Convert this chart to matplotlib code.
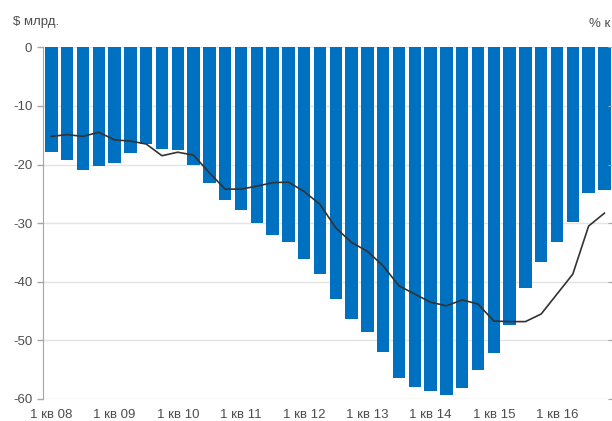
import numpy as np
from matplotlib import pyplot as plt

plt.rc('font', family=['Liberation Sans', 'DejaVu Sans'], size=9.5)
plt.rc('axes', unicode_minus=False)

# квартальные данные, 1 кв 2008 - 4 кв 2016
quarters = [f'{q} кв {y:02d}' for y in range(8, 17) for q in range(1, 5)]
bars_bln = [-17.9, -19.2, -21.0, -20.3, -19.8, -18.1, -16.5, -17.4,
            -17.6, -20.0, -23.1, -26.1, -27.8, -30.0, -32.0, -33.3,
            -36.1, -38.6, -43.0, -46.4, -48.5, -51.9, -56.4, -58.0,
            -58.6, -59.3, -58.1, -55.0, -52.2, -47.4, -41.0, -36.7,
            -33.2, -29.8, -24.8, -24.3]
line_pct = [-15.2, -14.9, -15.2, -14.5, -15.8, -16.0, -16.5, -18.5,
            -17.9, -18.4, -21.4, -24.2, -24.2, -23.7, -23.1, -23.0,
            -24.6, -26.8, -30.8, -33.3, -34.8, -37.3, -40.7, -42.1,
            -43.5, -44.1, -43.1, -43.8, -46.7, -46.8, -46.8, -45.5,
            -42.1, -38.7, -30.5, -28.3]
yticks = [0, -10, -20, -30, -40, -50, -60]

txt = '#4d4d4d'
fig = plt.figure(figsize=(6.12, 4.21), dpi=100)
ax = fig.add_axes([0.071, 0.0523, 0.9295, 0.8354])

x = np.arange(len(quarters))
ax.bar(x, bars_bln, 0.78, color='#0070c0', zorder=2)
ax.set_xlim(-0.5, len(quarters) - 0.5)
ax.set_ylim(-60, 0)
ax.set_yticks(yticks)
ax.set_xticks(x[::4])
ax.set_xticklabels(quarters[::4])
ax.tick_params(axis='x', length=0, pad=7, colors=txt)
ax.tick_params(axis='y', length=4, width=1, pad=4, colors='#a6a6a6', labelcolor=txt)
ax.grid(axis='y', color='#e3e3e3', lw=1, zorder=0)
for s in ['top', 'right', 'bottom']:
	ax.spines[s].set_visible(False)
ax.spines['left'].set_color('#a6a6a6')
ax.axhline(0, color='#bfbfbf', lw=1.2, zorder=1)

ax2 = ax.twinx()
ax2.set_ylim(-60, 0)
ax2.set_yticks(yticks)
ax2.tick_params(axis='y', direction='in', length=3, colors='#a6a6a6', labelright=False)
for s in ['top', 'left', 'bottom', 'right']:
	ax2.spines[s].set_visible(False)
ax2.plot(x, line_pct, color='#333333', lw=1.2, zorder=3)

fig.text(0.021, 0.947, '$ млрд.', color=txt, va='center', ha='left')
fig.text(0.962, 0.942, '% к', color=txt, va='center', ha='left')

plt.savefig('out.png', dpi=100)
